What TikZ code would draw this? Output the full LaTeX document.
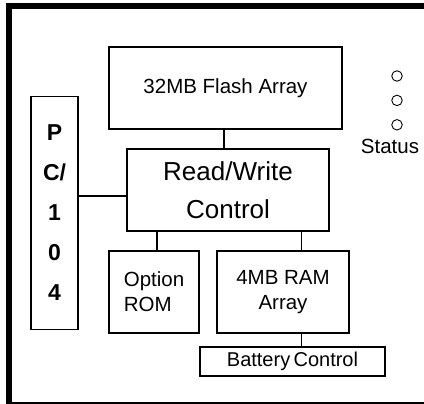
\documentclass[tikz,border=0pt]{standalone}
\usepackage{fontspec}
\setmainfont{Liberation Sans}
\usetikzlibrary{positioning}

\begin{document}
\begin{tikzpicture}[x=1pt, y=-1pt,
  box/.style={draw, line width=1.2pt, inner sep=0pt, align=center,
    font=\fontsize{20.5}{25}\selectfont},
  bigtxt/.style={font=\fontsize{26}{38}\selectfont},
  bus/.style={box, font=\fontsize{23}{40}\selectfont\bfseries},
  led/.style={draw, circle, line width=0.9pt, minimum size=10.5pt, inner sep=0pt},
  conn/.style={line width=1.2pt},
  frame/.style={line width=6pt},
]
\useasboundingbox (0,0) rectangle (424,404);

% Outer board edge
\draw[frame] (9,6.5) rectangle (432,405);

% Flash on top, control in the middle
\node[box, minimum width=233pt, minimum height=82pt] (flash) at (225.5,88) {32MB Flash Array};
\node[box, bigtxt, minimum width=202pt, minimum height=82pt] (rw) at (228,190) {Read/Write\\Control};

% PC/104 bus on the left
\node[bus, minimum width=47pt, minimum height=233pt] (pc) at (54.5,213) {P\\C/\\1\\0\\4};

% Memories below
\node[box, align=left, minimum width=90pt, minimum height=82pt] (rom) at (154,292) {Option\\ROM};
\node[box, minimum width=132pt, minimum height=82pt] (ram) at (283,292) {4MB RAM\\Array};
\node[box, font=\fontsize{20}{24}\selectfont, minimum width=185pt, minimum height=29pt] (batt) at (292.5,361.5) {Battery\,Control};

% Status LEDs
\node[led] (led1) at (397,76) {};
\node[led, below=13pt of led1] (led2) {};
\node[led, below=13pt of led2] (led3) {};
\node[font=\fontsize{20.5}{24}\selectfont] (status) at (390,146) {Status};

% connections
\draw[conn] ([xshift=-1.5pt]flash.south) -- ([xshift=-1.5pt]flash.south |- rw.north);
\draw[conn] ([yshift=-6pt]rw.west) -- ([yshift=-6pt]rw.west -| pc.east);
\draw[conn] ([xshift=3pt]rom.north) -- ([xshift=3pt]rom.north |- rw.south);
\draw[conn] ([xshift=18.5pt]ram.north) -- ([xshift=18.5pt]ram.north |- rw.south);
\draw[conn] ([xshift=18.5pt]ram.south) -- ([xshift=18.5pt]ram.south |- batt.north);

\end{tikzpicture}
\end{document}
